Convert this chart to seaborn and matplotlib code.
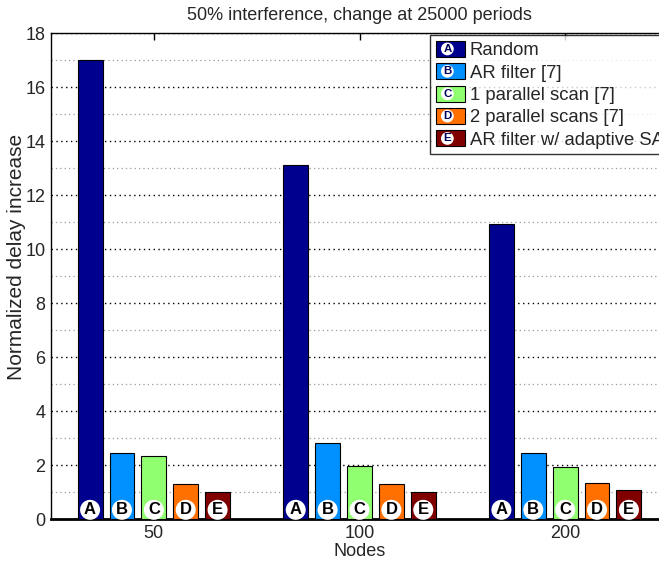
import numpy as np
import pandas as pd
import matplotlib
matplotlib.use("Agg")
import matplotlib.pyplot as plt
import seaborn as sns
from matplotlib.patches import Rectangle, Circle
from matplotlib.text import Text
from matplotlib.legend_handler import HandlerBase
from matplotlib.ticker import MultipleLocator

# Data
nodes = ["50", "100", "200"]
methods = ["Random", "AR filter [7]", "1 parallel scan [7]",
           "2 parallel scans [7]", "AR filter w/ adaptive SA"]
letters = ["A", "B", "C", "D", "E"]
random_vals = [17.0, 13.1, 10.93]
ar_filter_vals = [2.44, 2.81, 2.44]
one_scan_vals = [2.33, 1.96, 1.94]
two_scan_vals = [1.30, 1.30, 1.33]
adaptive_vals = [1.00, 1.00, 1.07]
colors = ["#00008F", "#0090FF", "#90FF70", "#FF7000", "#800000"]

series = [random_vals, ar_filter_vals, one_scan_vals, two_scan_vals, adaptive_vals]
df = pd.DataFrame({
    "Nodes": np.repeat([nodes], len(methods), axis=0).ravel(),
    "Method": np.repeat(methods, len(nodes)),
    "Value": np.concatenate(series),
})

sns.set_style("white")
plt.rcParams["font.family"] = ["Liberation Sans", "DejaVu Sans"]

W, H = 659, 563
fig = plt.figure(figsize=(W / 100, H / 100), dpi=100)
ax_left, ax_right, ax_bottom, ax_top = 51, 668, 519, 33
ax = fig.add_axes([ax_left / W, (H - ax_bottom) / H,
                   (ax_right - ax_left) / W, (ax_bottom - ax_top) / H])

sns.barplot(data=df, x="Nodes", y="Value", hue="Method", order=nodes,
            hue_order=methods, palette=colors, saturation=1, width=0.775,
            gap=0.22, edgecolor="black", linewidth=0.8, errorbar=None,
            legend=False, ax=ax, zorder=3)

ax.set_xlim(-0.5, 2.5)
ax.set_ylim(0, 18)
ax.yaxis.set_major_locator(MultipleLocator(2))
ax.yaxis.set_minor_locator(MultipleLocator(1))
ax.grid(False)
ax.grid(True, which="major", axis="y", linestyle=(0, (1, 2.5)),
        color="black", linewidth=1.0, zorder=0)
ax.grid(True, which="minor", axis="y", linestyle=(0, (1, 2.5)),
        color="#9a9a9a", linewidth=0.9, zorder=0)
ax.set_axisbelow(True)

ax.tick_params(axis="both", which="major", direction="in", length=5,
               width=1, top=True, right=True, labelsize=13, pad=4,
               color="black")
ax.tick_params(axis="y", which="minor", length=0)
for s in ax.spines.values():
    s.set_visible(True)
    s.set_color("black")
    s.set_linewidth(1.0)
ax.spines["bottom"].set_linewidth(2.0)

ax.set_xlabel("Nodes", fontsize=13, labelpad=1)
ax.set_ylabel("Normalized delay increase", fontsize=15)
ax.yaxis.set_label_coords(-0.041, 0.54)
ax.set_title("50% interference, change at 25000 periods", fontsize=13, pad=9)

# Letter badges at the foot of each bar
for container, letter in zip(ax.containers, letters):
    for bar in container:
        cx = bar.get_x() + bar.get_width() / 2
        ax.text(cx, 0.34, letter, ha="center", va="center", fontsize=12,
                fontweight="bold", color="black", zorder=5,
                bbox=dict(boxstyle="circle,pad=0.15", fc="white", ec="none"))


class BadgeHandler(HandlerBase):
    def __init__(self, letter):
        super().__init__()
        self.letter = letter

    def create_artists(self, legend, orig_handle, xdescent, ydescent,
                       width, height, fontsize, trans):
        rect = Rectangle((-xdescent, -ydescent), width, height,
                         facecolor=orig_handle.get_facecolor(),
                         edgecolor="black", linewidth=0.8, transform=trans)
        cx = -xdescent + width * 0.4
        cy = -ydescent + height / 2
        circ = Circle((cx, cy), height * 0.4, facecolor="white",
                      edgecolor="none", transform=trans)
        txt = Text(cx, cy, self.letter, ha="center", va="center",
                   fontsize=fontsize * 0.62, fontweight="bold",
                   color="#00005a", transform=trans)
        return [rect, circ, txt]


handles = [Rectangle((0, 0), 1, 1, facecolor=c) for c in colors]
leg = ax.legend(handles, methods,
                handler_map={h: BadgeHandler(l) for h, l in zip(handles, letters)},
                loc="upper left", bbox_to_anchor=((430 - ax_left) / (ax_right - ax_left), 0.995),
                fontsize=13.3, frameon=True, fancybox=False, shadow=False,
                handlelength=1.6, handleheight=0.95, handletextpad=0.25,
                labelspacing=0.22, borderpad=0.3, borderaxespad=0)
leg.get_frame().set_edgecolor("black")
leg.get_frame().set_linewidth(1.0)
leg.set_zorder(10)

fig.savefig("out.png", dpi=100)
